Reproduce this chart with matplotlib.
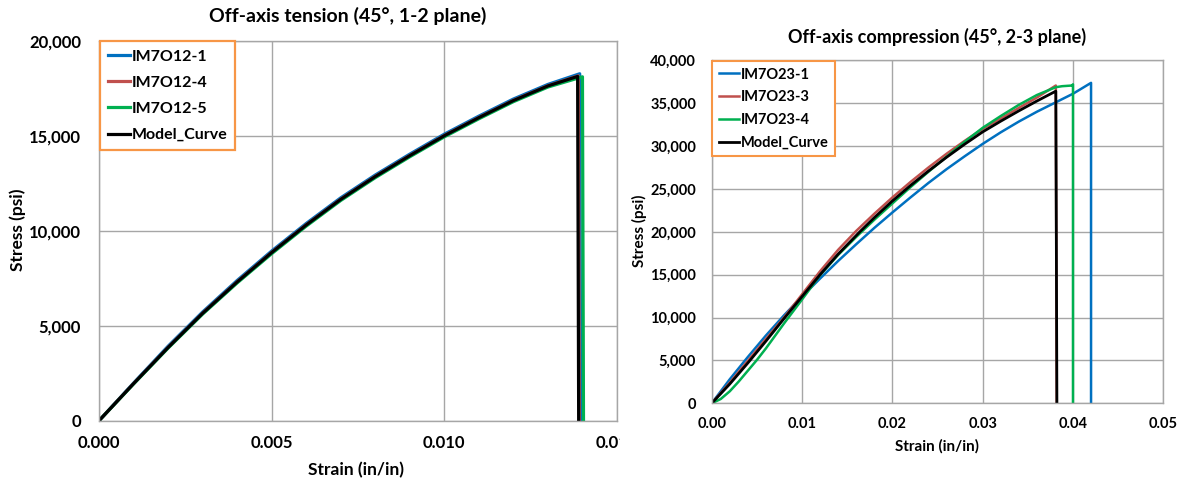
import matplotlib
matplotlib.use("Agg")
import matplotlib.pyplot as plt
from matplotlib.patches import Rectangle
from matplotlib.ticker import StrMethodFormatter, MultipleLocator

plt.rcParams['font.family'] = ['Lato', 'DejaVu Sans']
plt.rcParams['font.weight'] = 'bold'

# ---- left chart: off-axis tension (1-2 plane) ----
t_labels = ['IM7O12-1', 'IM7O12-4', 'IM7O12-5', 'Model_Curve']

t1_strain = [0, 0.001, 0.002, 0.003, 0.004, 0.005, 0.006, 0.007, 0.008, 0.009, 0.010, 0.011, 0.012, 0.013, 0.01392, 0.01395]
t1_stress = [0, 1980, 3920, 5720, 7380, 8930, 10380, 11730, 12930, 14030, 15080, 16030, 16930, 17700, 18260, 0]

t4_strain = [0, 0.001, 0.002, 0.003, 0.004, 0.005, 0.006, 0.007, 0.008, 0.009, 0.010, 0.011, 0.012, 0.013, 0.01388, 0.01391]
t4_stress = [0, 1950, 3860, 5660, 7310, 8860, 10310, 11660, 12860, 13960, 15010, 15960, 16860, 17630, 18150, 0]

t5_strain = [0, 0.001, 0.002, 0.003, 0.004, 0.005, 0.006, 0.007, 0.008, 0.009, 0.010, 0.011, 0.012, 0.013, 0.01400, 0.01403]
t5_stress = [0, 1930, 3820, 5610, 7250, 8790, 10240, 11590, 12790, 13890, 14940, 15890, 16790, 17560, 18100, 0]

tm_strain = [0, 0.001, 0.002, 0.003, 0.004, 0.005, 0.006, 0.007, 0.008, 0.009, 0.010, 0.011, 0.012, 0.013, 0.01386, 0.01389]
tm_stress = [0, 1950, 3850, 5650, 7300, 8850, 10300, 11650, 12850, 13950, 15000, 15950, 16850, 17620, 18120, 0]

# ---- right chart: off-axis compression (2-3 plane) ----
c_labels = ['IM7O23-1', 'IM7O23-3', 'IM7O23-4', 'Model_Curve']

c1_strain = [0, 0.002, 0.004, 0.006, 0.008, 0.010, 0.012, 0.014, 0.016, 0.018, 0.020, 0.022,
             0.024, 0.026, 0.028, 0.030, 0.032, 0.034, 0.036, 0.038, 0.040, 0.0420, 0.0420]
c1_stress = [0, 2800, 5400, 7900, 10250, 12450, 14550, 16600, 18550, 20450, 22250, 24000,
             25700, 27300, 28800, 30250, 31600, 32850, 34000, 35050, 36100, 37370, 0]

c3_strain = [0, 0.002, 0.004, 0.006, 0.008, 0.010, 0.012, 0.014, 0.016, 0.018, 0.020, 0.022,
             0.024, 0.026, 0.028, 0.030, 0.032, 0.034, 0.036, 0.0381, 0.0382]
c3_stress = [0, 2400, 4950, 7500, 10000, 12700, 15400, 17900, 20100, 22100, 24000, 25800,
             27500, 29100, 30600, 32000, 33200, 34450, 35650, 37060, 0]

c4_strain = [0, 0.001, 0.002, 0.003, 0.004, 0.005, 0.006, 0.008, 0.010, 0.012, 0.014, 0.016, 0.018,
             0.020, 0.022, 0.024, 0.026, 0.028, 0.030, 0.032, 0.034, 0.036, 0.0381, 0.0388,
             0.0399, 0.0400, 0.0400]
c4_stress = [0, 500, 1400, 2550, 3800, 5050, 6400, 9300, 12100, 14950, 17300, 19400, 21400,
             23300, 25200, 27000, 28750, 30500, 32125, 33500, 34800, 35950, 36865, 36980,
             37060, 37200, 0]

cm_strain = [0, 0.002, 0.004, 0.006, 0.008, 0.010, 0.012, 0.014, 0.0164, 0.018, 0.020, 0.022,
             0.024, 0.026, 0.028, 0.030, 0.032, 0.034, 0.036, 0.0381, 0.03822]
cm_stress = [0, 2250, 4700, 7250, 9870, 12450, 15000, 17400, 20000, 21650, 23590, 25390,
             27090, 28690, 30210, 31650, 32900, 34100, 35250, 36400, 0]

colors = ['#0070C0', '#C0504D', '#00B050', '#000000']
grid_c = '#A6A6A6'

W, H = 1179, 482
PT = 100 / 72.0  # pixels per point
fig = plt.figure(figsize=(W / 100, H / 100), dpi=100)


def px_axes(x0, x1, ytop, ybot, z):
    return fig.add_axes([x0 / W, (H - ybot) / H, (x1 - x0) / W, (ybot - ytop) / H], zorder=z)


def style(ax, tick_fs):
    ax.grid(True, color=grid_c, lw=1.0)
    ax.set_axisbelow(True)
    for s in ax.spines.values():
        s.set_color(grid_c)
        s.set_linewidth(1.0)
    ax.tick_params(length=0, labelsize=tick_fs)
    ax.yaxis.set_major_formatter(StrMethodFormatter('{x:,.0f}'))


# left
ax1 = px_axes(99, 617, 40.7, 420.7, 0)
for xs, ys, c, lab in zip([t1_strain, t4_strain, t5_strain, tm_strain],
                          [t1_stress, t4_stress, t5_stress, tm_stress], colors, t_labels):
    ax1.plot(xs, ys, color=c, lw=2.3, label=lab)
ax1.set_xlim(0, 0.015)
ax1.set_ylim(0, 20000)
ax1.xaxis.set_major_locator(MultipleLocator(0.005))
ax1.yaxis.set_major_locator(MultipleLocator(5000))
style(ax1, 12)
ax1.xaxis.set_major_formatter(StrMethodFormatter('{x:.3f}'))
ax1.tick_params(axis='y', pad=18 / PT)
ax1.tick_params(axis='x', pad=14 / PT)
ax1.set_title('Off-axis tension (45°, 1-2 plane)', fontsize=14, fontweight='bold',
              x=0.481, y=1.064, va='center', pad=0)
ax1.set_xlabel('Strain (in/in)', fontsize=12.5, fontweight='bold', va='center')
ax1.set_ylabel('Stress (psi)', fontsize=12.5, fontweight='bold', va='center')
ax1.xaxis.set_label_coords(0.497, -0.130)
ax1.yaxis.set_label_coords(-0.156, 0.502)
leg1 = ax1.legend(loc='upper left', bbox_to_anchor=(0, 1), borderaxespad=0.05,
                  fancybox=False, framealpha=1, edgecolor='#F79646',
                  prop={'size': 11.5, 'weight': 'bold'}, handlelength=1.4,
                  handletextpad=0.1, labelspacing=0.75, borderpad=0.5)
leg1.get_frame().set_linewidth(1.6)

# mask the part of the left chart that runs past the crop
fig.patches.append(Rectangle((620 / W, 0), 1 - 620 / W, 1, transform=fig.transFigure,
                             facecolor='white', edgecolor='none', zorder=1))

# right
ax2 = px_axes(711.7, 1163.3, 60.3, 403.3, 2)
for xs, ys, c, lab in zip([c1_strain, c3_strain, c4_strain, cm_strain],
                          [c1_stress, c3_stress, c4_stress, cm_stress], colors, c_labels):
    ax2.plot(xs, ys, color=c, lw=1.8 if c != '#000000' else 2.0, label=lab)
ax2.set_xlim(0, 0.05)
ax2.set_ylim(0, 40000)
ax2.xaxis.set_major_locator(MultipleLocator(0.01))
ax2.yaxis.set_major_locator(MultipleLocator(5000))
style(ax2, 10.5)
ax2.xaxis.set_major_formatter(StrMethodFormatter('{x:.2f}'))
ax2.tick_params(axis='y', pad=15.5 / PT)
ax2.tick_params(axis='x', pad=14 / PT)
ax2.set_title('Off-axis compression (45°, 2-3 plane)', fontsize=13, fontweight='bold',
              x=0.5, y=1.069, va='center', pad=0)
ax2.set_xlabel('Strain (in/in)', fontsize=11, fontweight='bold', va='center')
ax2.set_ylabel('Stress (psi)', fontsize=11, fontweight='bold', va='center')
ax2.xaxis.set_label_coords(0.499, -0.1245)
ax2.yaxis.set_label_coords(-0.160, 0.5035)
leg2 = ax2.legend(loc='upper left', bbox_to_anchor=(0, 1), borderaxespad=0.05,
                  fancybox=False, framealpha=1, edgecolor='#F79646',
                  prop={'size': 10.5, 'weight': 'bold'}, handlelength=1.4,
                  handletextpad=0.1, labelspacing=0.6, borderpad=0.45)
leg2.get_frame().set_linewidth(1.5)

fig.savefig('out.png', dpi=100, facecolor='white')
